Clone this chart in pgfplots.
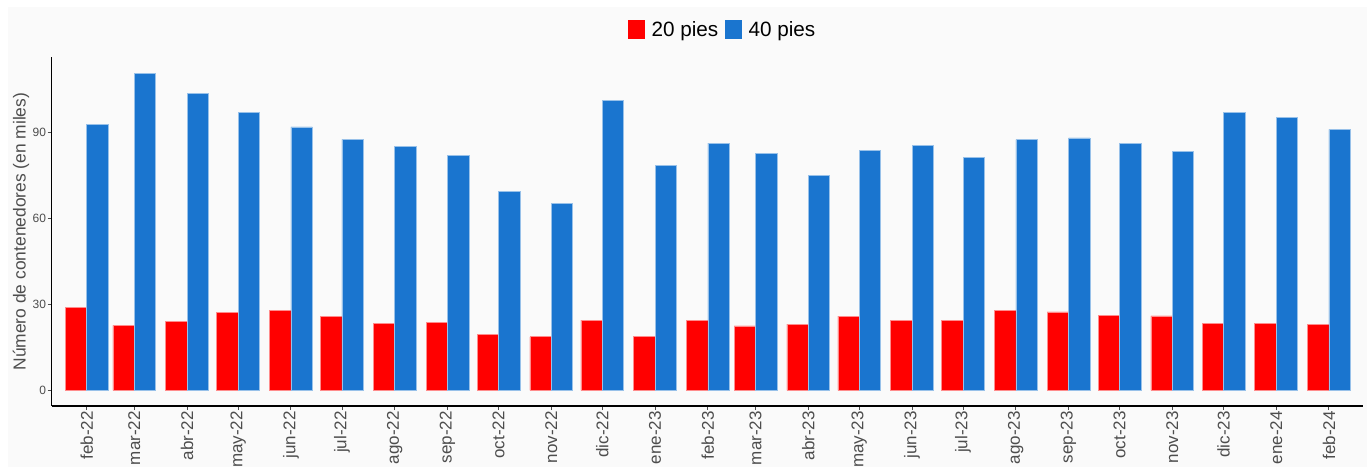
\documentclass[border=0pt]{standalone}
\usepackage{fontspec}
\setmainfont{Liberation Sans}
\usepackage{pgfplots}
\usepackage{pgfplotstable}
\pgfplotsset{compat=1.18}
\definecolor{cred}{HTML}{FF0000}
\definecolor{cblue}{HTML}{1A75CF}
\definecolor{panel}{HTML}{FAFAFA}
\definecolor{txtgray}{HTML}{4D4D4D}

\pgfplotstableread{
x r b
0 29.0 93.0
28 22.7 110.8
59 24.0 103.6
89 27.2 97.0
120 27.9 92.0
150 25.7 87.7
181 23.5 85.2
212 23.8 82.2
242 19.4 69.5
273 18.7 65.3
303 24.5 101.3
334 18.9 78.5
365 24.5 86.4
393 22.5 82.8
424 23.1 75.0
454 25.9 83.9
485 24.5 85.6
515 24.5 81.3
546 27.8 87.6
577 27.4 88.2
607 26.2 86.4
638 26.0 83.4
668 23.3 97.1
699 23.5 95.4
730 23.1 91.2
}\datatable

\begin{document}
\begin{tikzpicture}
\path[use as bounding box] (0pt,0pt) rectangle (1367pt,467pt);
\fill[panel] (8pt,0pt) rectangle (1367pt,460pt);
\begin{axis}[
  at={(51.7pt,61pt)}, anchor=south west,
  scale only axis, width=1311.3pt, height=348.7pt,
  xmin=-20.57, xmax=750.0, ymin=-5.5, ymax=116.35,
  axis x line*=bottom, axis y line*=left,
  axis line style={black, line width=1.1pt, -},
  tick align=outside, major tick length=4pt,
  tick style={txtgray, line width=0.9pt},
  xtick={0,28,59,89,120,150,181,212,242,273,303,334,365,393,424,454,485,515,546,577,607,638,668,699,730},
  xticklabels={feb-22,mar-22,abr-22,may-22,jun-22,jul-22,ago-22,sep-22,oct-22,nov-22,dic-22,ene-23,feb-23,mar-23,abr-23,may-23,jun-23,jul-23,ago-23,sep-23,oct-23,nov-23,dic-23,ene-24,feb-24},
  x tick label style={rotate=90, anchor=east, font=\fontsize{17}{17}\selectfont, text=txtgray, inner sep=1pt},
  ytick={0,30,60,90},
  y tick label style={font=\fontsize{12}{12}\selectfont, text=txtgray, inner sep=1.5pt},
  /pgf/number format/assume math mode=true,
  ylabel={Número de contenedores (en miles)},
  ylabel style={at={(axis description cs:-0.0234,0.5)}, anchor=center, font=\fontsize{17.4}{17.4}\selectfont, text=txtgray},
  ybar, bar width=21.4pt,
  legend columns=2,
  legend cell align=left,
  legend image code/.code={\fill[#1,draw=none] (0pt,-9.5pt) rectangle (17pt,9.5pt); \path (23pt,0pt);},
  legend style={at={(0.5110,1.0790)}, anchor=center, draw=none, fill=none, inner sep=0pt,
    font=\fontsize{20.7}{20.7}\selectfont, nodes={inner sep=0pt},
    /tikz/every even column/.append style={column sep=7pt}},
]
\addplot[ybar, bar shift=-10.7pt, fill=cred, draw=cred!45!white, line width=0.6pt] table[x=x,y=r]{\datatable};
\addplot[ybar, bar shift=10.7pt, fill=cblue, draw=cblue!45!white, line width=0.6pt] table[x=x,y=b]{\datatable};
\legend{20 pies, 40 pies}
\end{axis}
\end{tikzpicture}
\end{document}
